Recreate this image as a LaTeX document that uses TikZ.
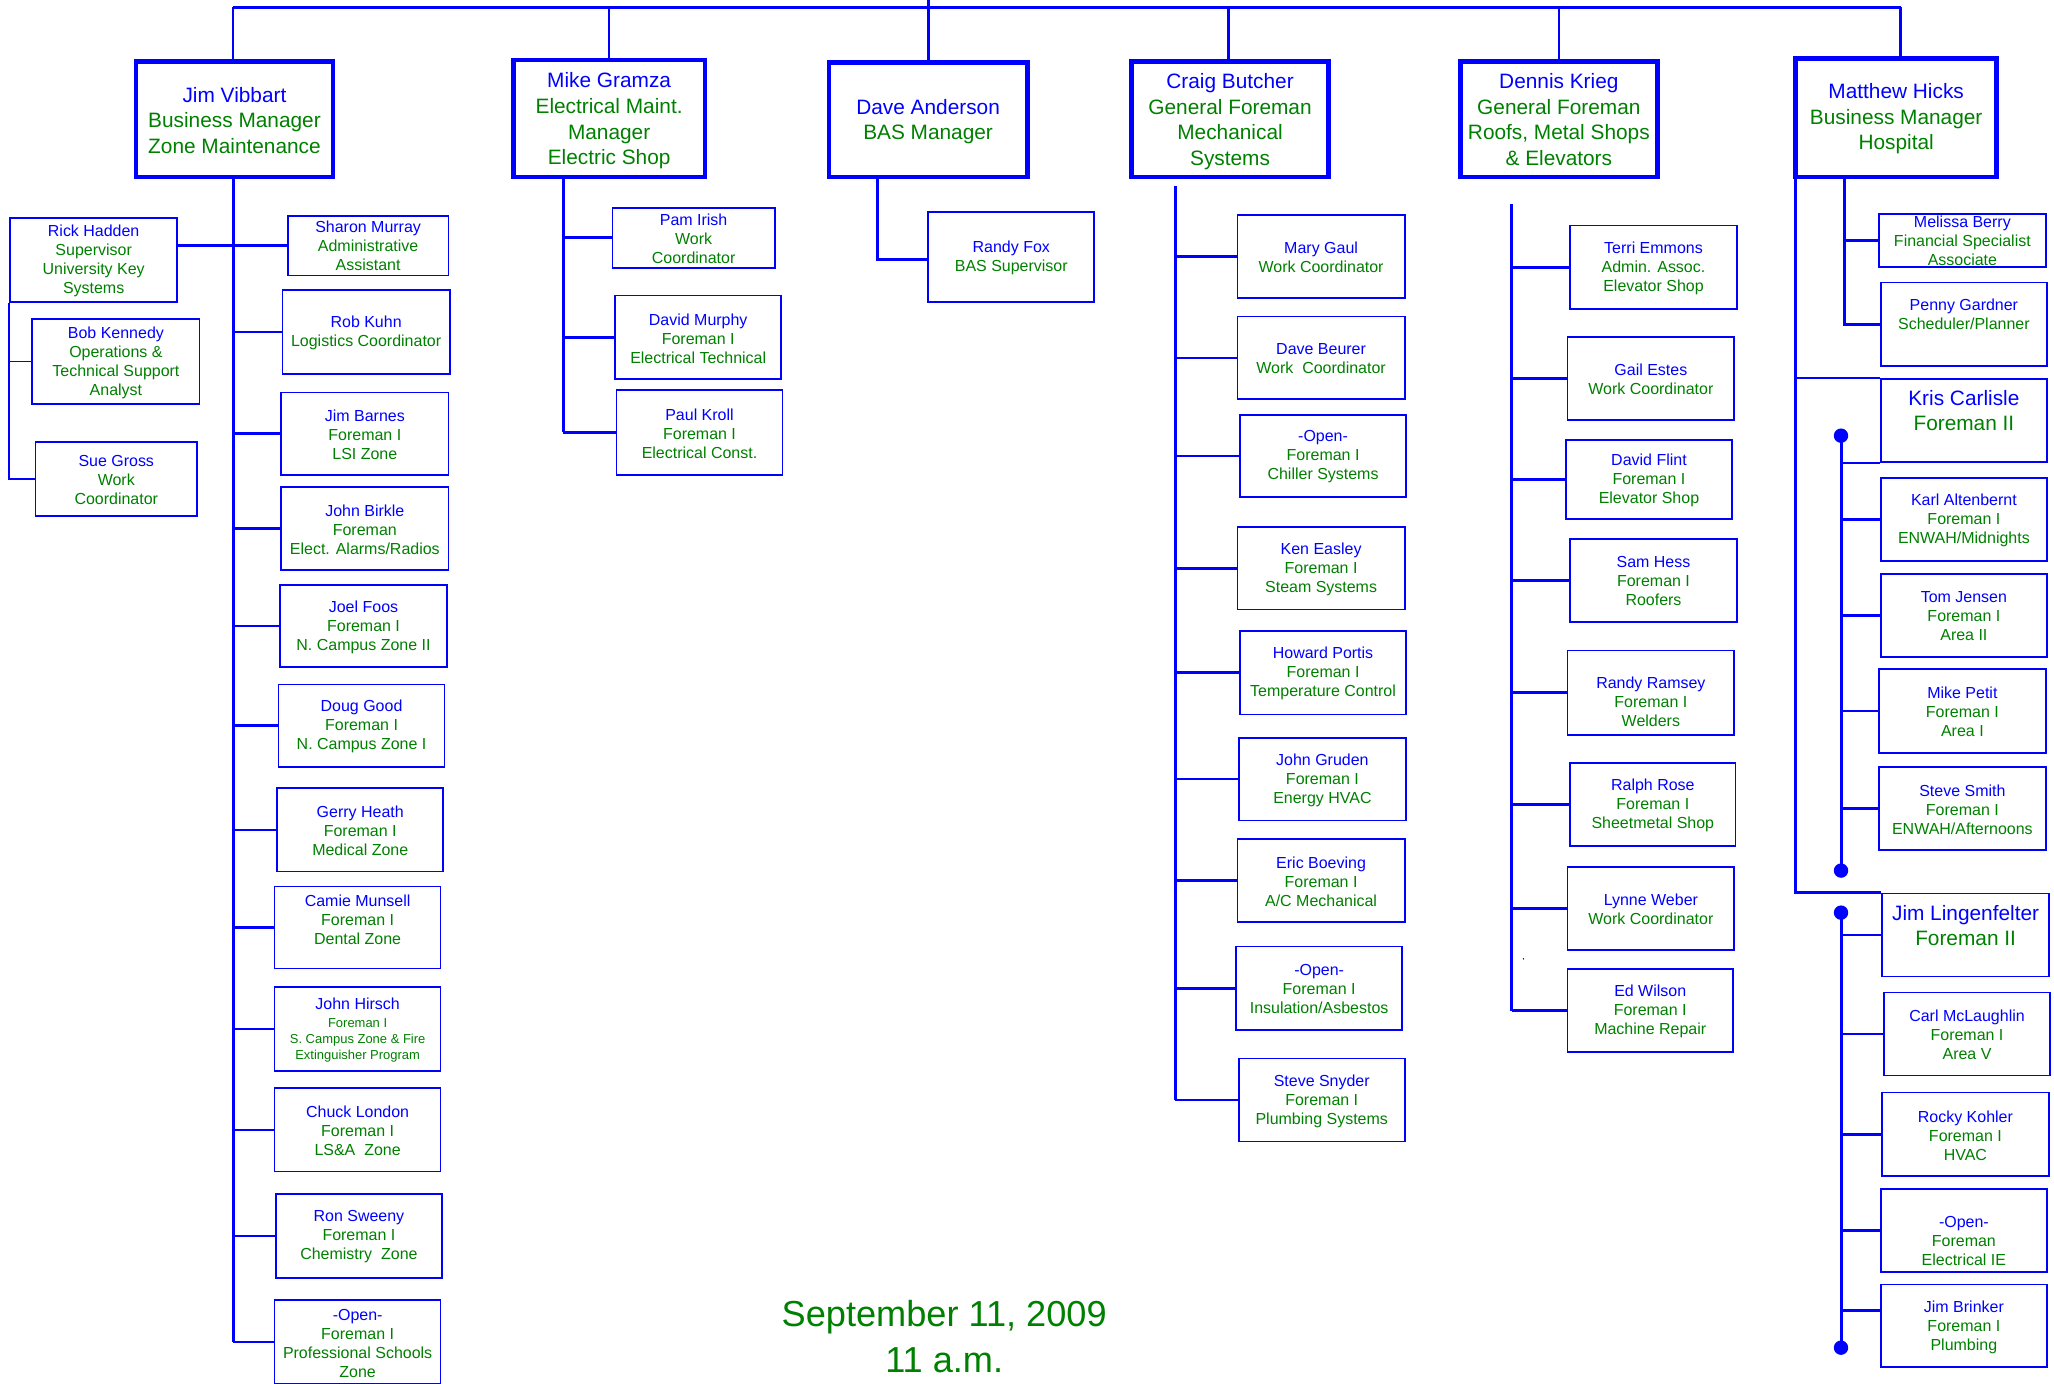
\documentclass[tikz,border=0pt]{standalone}
\usepackage{fontspec}
\setmainfont{Liberation Sans}
\definecolor{oblue}{RGB}{0,0,255}
\definecolor{ogreen}{RGB}{0,128,0}
\newcommand\nm[1]{\textcolor{oblue}{#1}}
% style-prefix, line width, x1, y1, x2, y2, name, text yshift, text
\newcommand\mkbox[9]{%
  \node[#1box, line width=#2, minimum width={#5-#3-#2}, minimum height={#6-#4-#2}] (#7) at ({(#3+#5)/2},{(#4+#6)/2}) {};
  \node[#1txt] (#7t) at ([yshift={#8-0.8}]#7.center) {#9};}
\tikzset{
  sbox/.style={draw=oblue, rectangle, inner sep=0pt},
  bbox/.style={draw=oblue, rectangle, inner sep=0pt},
  kbox/.style={draw=oblue, rectangle, inner sep=0pt},
  stxt/.style={align=center, inner sep=0pt, text=ogreen, font=\fontsize{12.2}{14.5}\selectfont},
  btxt/.style={align=center, inner sep=0pt, text=ogreen, font=\fontsize{15.9}{19.5}\selectfont},
  ktxt/.style={align=center, inner sep=0pt, text=ogreen, font=\fontsize{15.9}{19.5}\selectfont},
  busln/.style={draw=oblue, line width=2.2pt},
  dropln/.style={draw=oblue, line width=2pt},
  trunkln/.style={draw=oblue, line width=2.3pt},
  branchln/.style={draw=oblue, line width=2pt},
  thinln/.style={draw=oblue, line width=1.4pt},
  dot/.style={circle, fill=oblue, inner sep=0pt, minimum size=11pt},
  datetxt/.style={align=center, inner sep=0pt, text=ogreen, font=\fontsize{27.6}{35.1}\selectfont}
}
\begin{document}
\begin{tikzpicture}[x=1pt,y=-1pt]
\useasboundingbox (0,0) rectangle (1568,1056);
\fill[white] (0,0) rectangle (1568,1056);

% ---------- top level ----------
\mkbox{b}{3.6}{102}{45}{256}{137}{jv}{0}{\nm{Jim Vibbart}\\Business Manager\\Zone Maintenance}
\mkbox{b}{3.6}{390}{44}{540}{137}{mg}{-1}{\nm{Mike Gramza}\\Electrical Maint.\\Manager\\Electric Shop}
\mkbox{b}{3.6}{631}{46}{786}{137}{da}{-0.5}{\nm{Dave Anderson}\\BAS Manager}
\mkbox{b}{3.6}{862}{45}{1016}{137}{cb}{-1}{\nm{Craig Butcher}\\General Foreman\\Mechanical\\Systems}
\mkbox{b}{3.6}{1113}{45}{1267}{137}{dk}{0.5}{\nm{Dennis Krieg}\\General Foreman\\Roofs, Metal Shops\\\& Elevators}
\mkbox{b}{3.6}{1369}{43}{1526}{137}{mh}{0}{\nm{Matthew Hicks}\\Business Manager\\Hospital}

% ---------- column 1 ----------
\mkbox{s}{1.3}{7}{166}{136}{231}{rh}{0}{\nm{Rick Hadden}\\Supervisor\\University Key\\Systems}
\mkbox{s}{1.3}{24}{243}{153}{309}{bk}{0}{\nm{Bob Kennedy}\\Operations \&\\Technical Support\\Analyst}
\mkbox{s}{1.3}{26.5}{337}{151}{394.5}{sg}{0}{\nm{Sue Gross}\\Work\\Coordinator}
\mkbox{s}{1.3}{219}{164}{343}{211}{sm}{0.5}{\nm{Sharon Murray}\\Administrative\\Assistant}
\mkbox{s}{1.3}{215}{221}{344}{286}{rk}{0}{\nm{Rob Kuhn}\\Logistics Coordinator}
\mkbox{s}{1.3}{214}{299}{343}{363}{jba}{0}{\nm{Jim Barnes}\\Foreman I\\LSI Zone}
\mkbox{s}{1.3}{214}{371}{343}{436}{jbi}{0}{\nm{John Birkle}\\Foreman\\Elect. Alarms/Radios}
\mkbox{s}{1.3}{213}{446}{342}{510}{jf}{0}{\nm{Joel Foos}\\Foreman I\\N. Campus Zone II}
\mkbox{s}{1.3}{212}{522}{340}{586}{dg}{0}{\nm{Doug Good}\\Foreman I\\N. Campus Zone I}
\mkbox{s}{1.3}{211}{601}{339}{666}{gh}{0}{\nm{Gerry Heath}\\Foreman I\\Medical Zone}
\mkbox{s}{1.3}{209}{676}{337}{740}{cm}{7}{\nm{Camie Munsell}\\Foreman I\\Dental Zone}
\mkbox{s}{1.3}{209}{753}{337}{818}{jh}{0}{\parbox{126pt}{\centering\nm{John Hirsch}\par\vspace{1.3pt}\fontsize{9.9}{12.2}\selectfont Foreman I\par S. Campus Zone \& Fire\par Extinguisher Program}}
\mkbox{s}{1.3}{209}{830}{337}{895}{cl}{0}{\nm{Chuck London}\\Foreman I\\LS\&A~ Zone}
\mkbox{s}{1.3}{210}{911}{338}{976}{rs}{0}{\nm{Ron Sweeny}\\Foreman I\\Chemistry~ Zone}
\mkbox{s}{1.3}{209}{992}{337}{1057}{op}{0}{\nm{-Open-}\\Foreman I\\Professional Schools\\Zone}

% ---------- column 2 ----------
\mkbox{s}{1.3}{467}{158}{592}{205}{pi}{0}{\nm{Pam Irish}\\Work\\Coordinator}
\mkbox{s}{1.3}{469}{225}{597}{290}{dm}{0}{\nm{David Murphy}\\Foreman I\\Electrical Technical}
\mkbox{s}{1.3}{470}{297}{598}{363}{pk}{0}{\nm{Paul Kroll}\\Foreman I\\Electrical Const.}

% ---------- column 3 ----------
\mkbox{s}{1.3}{708}{161}{836}{231}{rf}{0}{\nm{Randy Fox}\\BAS Supervisor}

% ---------- column 4 ----------
\mkbox{s}{1.3}{944}{163.5}{1073}{228}{mgl}{0}{\nm{Mary Gaul}\\Work Coordinator}
\mkbox{s}{1.3}{944}{241}{1073}{305.5}{dbe}{0}{\nm{Dave Beurer}\\Work~ Coordinator}
\mkbox{s}{1.3}{946}{316}{1074}{380}{och}{0}{\nm{-Open-}\\Foreman I\\Chiller Systems}
\mkbox{s}{1.3}{944}{401.5}{1073}{466}{ke}{0}{\nm{Ken Easley}\\Foreman I\\Steam Systems}
\mkbox{s}{1.3}{946}{481}{1074}{546}{hp}{0}{\nm{Howard Portis}\\Foreman I\\Temperature Control}
\mkbox{s}{1.3}{945}{562.5}{1074}{627}{jgr}{0}{\nm{John Gruden}\\Foreman I\\Energy HVAC}
\mkbox{s}{1.3}{944}{640}{1073}{704.5}{eb}{0}{\nm{Eric Boeving}\\Foreman I\\A/C Mechanical}
\mkbox{s}{1.3}{943}{722}{1071}{787}{oin}{0}{\nm{-Open-}\\Foreman I\\Insulation/Asbestos}
\mkbox{s}{1.3}{945}{807.5}{1073}{872}{ss}{0}{\nm{Steve Snyder}\\Foreman I\\Plumbing Systems}

% ---------- column 5 ----------
\mkbox{s}{1.3}{1198}{171.6}{1326.5}{236.7}{te}{0}{\nm{Terri Emmons}\\Admin. Assoc.\\Elevator Shop}
\mkbox{s}{1.3}{1196}{256.5}{1324.5}{321.5}{ge}{0}{\nm{Gail Estes}\\Work Coordinator}
\mkbox{s}{1.3}{1194.6}{335}{1323}{397}{df}{0}{\nm{David Flint}\\Foreman I\\Elevator Shop}
\mkbox{s}{1.3}{1198}{410.6}{1326.5}{475.5}{sh}{0}{\nm{Sam Hess}\\Foreman I\\Roofers}
\mkbox{s}{1.3}{1196}{496}{1324.5}{561.5}{rr}{-6.5}{\nm{Randy Ramsey}\\Foreman I\\Welders}
\mkbox{s}{1.3}{1198}{581.7}{1325.5}{646.6}{rro}{0}{\nm{Ralph Rose}\\Foreman I\\Sheetmetal Shop}
\mkbox{s}{1.3}{1196}{661}{1324.5}{725.6}{lyw}{0}{\nm{Lynne Weber}\\Work Coordinator}
\mkbox{s}{1.3}{1196}{739.3}{1323.5}{803.5}{ew}{0}{\nm{Ed Wilson}\\Foreman I\\Machine Repair}
\node[circle, fill=black, inner sep=0pt, minimum size=1.2pt] (speck) at (1163,732) {};

% ---------- column 6 ----------
\mkbox{s}{1.3}{1433.7}{162.5}{1562.4}{204.5}{mb}{0.5}{\nm{Melissa Berry}\\Financial Specialist\\Associate}
\mkbox{s}{1.3}{1435}{215}{1563.4}{280}{pg}{8}{\nm{Penny Gardner}\\Scheduler/Planner}
\mkbox{k}{1.3}{1435}{288.6}{1563.4}{353.4}{kc}{8.5}{\nm{Kris Carlisle}\\Foreman II}
\mkbox{s}{1.3}{1435}{364}{1563.4}{428.7}{ka}{0}{\nm{Karl Altenbernt}\\Foreman I\\ENWAH/Midnights}
\mkbox{s}{1.3}{1435}{437.3}{1563.4}{502}{tj}{0}{\nm{Tom Jensen}\\Foreman I\\Area II}
\mkbox{s}{1.3}{1433.7}{510}{1562.4}{575.6}{mp}{0}{\nm{Mike Petit}\\Foreman I\\Area I}
\mkbox{s}{1.3}{1433.7}{585}{1562.4}{649.7}{ssm}{0}{\nm{Steve Smith}\\Foreman I\\ENWAH/Afternoons}
\mkbox{k}{1.3}{1436}{681.4}{1565}{746}{jl}{8}{\nm{Jim Lingenfelter}\\Foreman II}
\mkbox{s}{1.3}{1437.5}{757}{1565.7}{821.7}{cmc}{0}{\nm{Carl McLaughlin}\\Foreman I\\Area V}
\mkbox{s}{1.3}{1436}{833.4}{1564.7}{898.4}{rko}{0}{\nm{Rocky Kohler}\\Foreman I\\HVAC}
\mkbox{s}{1.3}{1435}{907}{1563.4}{971.6}{oie}{-7}{\nm{-Open-}\\Foreman\\Electrical IE}
\mkbox{s}{1.3}{1435}{980}{1563.4}{1044.4}{jbr}{0}{\nm{Jim Brinker}\\Foreman I\\Plumbing}

% ---------- date ----------
\node[datetxt] (dt) at (720.8,1020) {September 11, 2009\\11 a.m.};

% ---------- top bus ----------
\coordinate (top) at (709,0);
\coordinate (b1) at (178,5.5);
\coordinate (b2) at (465,5.5);
\coordinate (b3) at (709,5.5);
\coordinate (b4) at (938,5.5);
\coordinate (b5) at (1190,5.5);
\coordinate (b6) at (1451,5.5);
\draw[busln] (b1) -- (b6);
\draw[dropln] (top) -- (b3);
\draw[dropln] (b1) -- (b1 |- jv.north);
\draw[dropln] (b2) -- (b2 |- mg.north);
\draw[dropln] (b3) -- (b3 |- da.north);
\draw[dropln] (b4) -- (b4 |- cb.north);
\draw[dropln] (b5) -- (b5 |- dk.north);
\draw[dropln] (b6) -- (b6 |- mh.north);

% ---------- column 1 connectors ----------
\coordinate (t1) at (178,137);
\draw[trunkln] (t1) -- (t1 |- op.west);
\draw[branchln] (rh.east |- sm.west) -- (sm.west);
\foreach \n in {rk,jba,jbi,jf,dg,gh,cm,jh,cl,rs,op}
  \draw[branchln] (t1 |- \n.west) -- (\n.west);
\draw[thinln] (rh.south west) -- (rh.south west |- sg.west) -- (sg.west);
\draw[thinln] (rh.south west |- bk.west) -- (bk.west);

% ---------- column 2 ----------
\coordinate (t2) at (430,137);
\draw[trunkln] (t2) -- (t2 |- pk.west);
\foreach \n in {pi,dm,pk}
  \draw[branchln] (t2 |- \n.west) -- (\n.west);

% ---------- column 3 ----------
\coordinate (t3) at (670,137);
\coordinate (rfc) at ([yshift=-2pt]rf.west);
\draw[trunkln] (t3) |- (rfc);

% ---------- column 4 ----------
\coordinate (t4) at (897,142);
\draw[trunkln] (t4) -- (t4 |- ss.west);
\foreach \n in {mgl,dbe,och,ke,hp,jgr,eb,oin,ss}
  \draw[branchln] (t4 |- \n.west) -- (\n.west);

% ---------- column 5 ----------
\coordinate (t5) at (1154,156);
\draw[trunkln] (t5) -- (t5 |- ew.west);
\foreach \n in {te,ge,df,sh,rr,rro,lyw,ew}
  \draw[branchln] (t5 |- \n.west) -- (\n.west);

% ---------- column 6 ----------
\coordinate (t6) at (1371,137);
\draw[trunkln] (t6) -- (t6 |- jl.north west) -- (jl.north west);
\draw[thinln] (t6 |- kc.north west) -- (kc.north west);
\coordinate (t7) at (1408,137);
\draw[trunkln] (t7) -- (t7 |- pg.west) -- (pg.west);
\draw[branchln] (t7 |- mb.west) -- (mb.west);

\node[dot] (d1) at (1405.4,332.6) {};
\node[dot] (d2) at (1405.4,664.6) {};
\node[dot] (d3) at (1405.4,696.7) {};
\node[dot] (d4) at (1405.4,1028.8) {};
\draw[trunkln] (d1.center) -- (d2.center);
\draw[trunkln] (d3.center) -- (d4.center);
\draw[branchln] (d1 |- kc.south west) -- (kc.south west);
\foreach \n in {ka,tj,mp,ssm}
  \draw[branchln] (d1 |- \n.west) -- (\n.west);
\foreach \n in {jl,cmc,rko,oie}
  \draw[branchln] (d3 |- \n.west) -- (\n.west);
\coordinate (jbc) at ([yshift=12pt]jbr.west);
\draw[branchln] (d3 |- jbc) -- (jbc);
\end{tikzpicture}
\end{document}
